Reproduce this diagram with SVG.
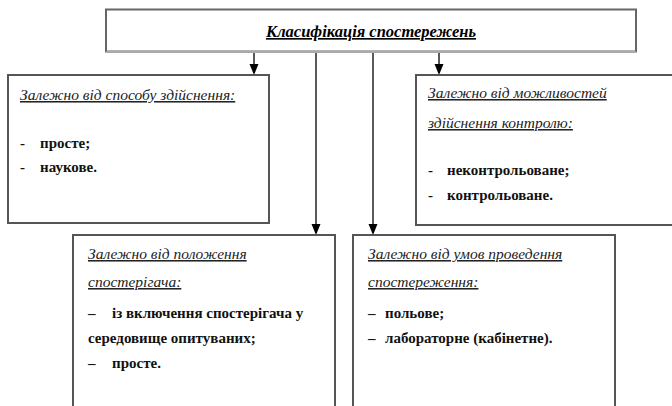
<svg xmlns="http://www.w3.org/2000/svg" width="672" height="406" viewBox="0 0 672 406">
<defs>
<style>
.box{fill:#fff;stroke:#555;stroke-width:2}
.cn{stroke:#000;stroke-width:1.3;fill:none}
.ah{fill:#000}
</style>
</defs>
<rect width="672" height="406" fill="#fff"/>
<g id="connectors">
<line class="cn" x1="254" y1="52" x2="254" y2="66"/>
<polygon class="ah" points="249.5,64 258.5,64 254,75"/>
<line class="cn" x1="439" y1="52" x2="439" y2="66"/>
<polygon class="ah" points="434.5,64 443.5,64 439,75"/>
<line class="cn" x1="316" y1="52" x2="316" y2="226"/>
<polygon class="ah" points="311.5,224 320.5,224 316,235"/>
<line class="cn" x1="373" y1="52" x2="373" y2="226"/>
<polygon class="ah" points="368.5,224 377.5,224 373,235"/>
</g>
<g id="top">
<rect x="106" y="9.5" width="530" height="42" fill="#fff" stroke="#666" stroke-width="2"/>
<line x1="106" y1="52" x2="636" y2="52" stroke="#aaa" stroke-width="2"/>
<text font-family="Times New Roman, Tinos, Liberation Serif, serif" font-size="16.5" font-weight="bold" font-style="italic" text-decoration="underline" fill="#000" x="371" y="37" text-anchor="middle">Класифікація спостережень</text>
</g>
<g id="box1">
<rect class="box" x="8" y="75" width="261" height="148"/>
<text font-family="Times New Roman, Tinos, Liberation Serif, serif" font-size="15.5" font-style="italic" text-decoration="underline" fill="#222" x="20" y="100">Залежно від способу здійснення:</text>
<text font-family="Times New Roman, Tinos, Liberation Serif, serif" font-size="15" font-weight="bold" fill="#111" x="20" y="148">-</text>
<text font-family="Times New Roman, Tinos, Liberation Serif, serif" font-size="15" font-weight="bold" fill="#111" x="40" y="148">просте;</text>
<text font-family="Times New Roman, Tinos, Liberation Serif, serif" font-size="15" font-weight="bold" fill="#111" x="20" y="172">-</text>
<text font-family="Times New Roman, Tinos, Liberation Serif, serif" font-size="15" font-weight="bold" fill="#111" x="40" y="172">наукове.</text>
</g>
<g id="box2">
<rect class="box" x="416" y="75" width="270" height="150"/>
<text font-family="Times New Roman, Tinos, Liberation Serif, serif" font-size="15.5" font-style="italic" text-decoration="underline" fill="#222" x="428" y="98">Залежно від можливостей</text>
<text font-family="Times New Roman, Tinos, Liberation Serif, serif" font-size="15.5" font-style="italic" text-decoration="underline" fill="#222" x="428" y="128">здійснення контролю:</text>
<text font-family="Times New Roman, Tinos, Liberation Serif, serif" font-size="15" font-weight="bold" fill="#111" x="428" y="175">-</text>
<text font-family="Times New Roman, Tinos, Liberation Serif, serif" font-size="15" font-weight="bold" fill="#111" x="447" y="175">неконтрольоване;</text>
<text font-family="Times New Roman, Tinos, Liberation Serif, serif" font-size="15" font-weight="bold" fill="#111" x="428" y="200">-</text>
<text font-family="Times New Roman, Tinos, Liberation Serif, serif" font-size="15" font-weight="bold" fill="#111" x="447" y="200">контрольоване.</text>
</g>
<g id="box3">
<rect class="box" x="73" y="235" width="262" height="190"/>
<text font-family="Times New Roman, Tinos, Liberation Serif, serif" font-size="15.5" font-style="italic" text-decoration="underline" fill="#222" x="88" y="259">Залежно від положення</text>
<text font-family="Times New Roman, Tinos, Liberation Serif, serif" font-size="15.5" font-style="italic" text-decoration="underline" fill="#222" x="88" y="287">спостерігача:</text>
<text font-family="Times New Roman, Tinos, Liberation Serif, serif" font-size="15" font-weight="bold" fill="#111" x="88" y="318">–</text>
<text font-family="Times New Roman, Tinos, Liberation Serif, serif" font-size="15" font-weight="bold" fill="#111" x="112" y="318">із включення спостерігача у</text>
<text font-family="Times New Roman, Tinos, Liberation Serif, serif" font-size="15" font-weight="bold" fill="#111" x="88" y="343">середовище опитуваних;</text>
<text font-family="Times New Roman, Tinos, Liberation Serif, serif" font-size="15" font-weight="bold" fill="#111" x="88" y="368">–</text>
<text font-family="Times New Roman, Tinos, Liberation Serif, serif" font-size="15" font-weight="bold" fill="#111" x="112" y="368">просте.</text>
</g>
<g id="box4">
<rect class="box" x="353" y="235" width="262" height="190"/>
<text font-family="Times New Roman, Tinos, Liberation Serif, serif" font-size="15.5" font-style="italic" text-decoration="underline" fill="#222" x="368" y="259">Залежно від умов проведення</text>
<text font-family="Times New Roman, Tinos, Liberation Serif, serif" font-size="15.5" font-style="italic" text-decoration="underline" fill="#222" x="368" y="287">спостереження:</text>
<text font-family="Times New Roman, Tinos, Liberation Serif, serif" font-size="15" font-weight="bold" fill="#111" x="368" y="318">–</text>
<text font-family="Times New Roman, Tinos, Liberation Serif, serif" font-size="15" font-weight="bold" fill="#111" x="385" y="318">польове;</text>
<text font-family="Times New Roman, Tinos, Liberation Serif, serif" font-size="15" font-weight="bold" fill="#111" x="368" y="343">–</text>
<text font-family="Times New Roman, Tinos, Liberation Serif, serif" font-size="15" font-weight="bold" fill="#111" x="385" y="343">лабораторне (кабінетне).</text>
</g>
</svg>
